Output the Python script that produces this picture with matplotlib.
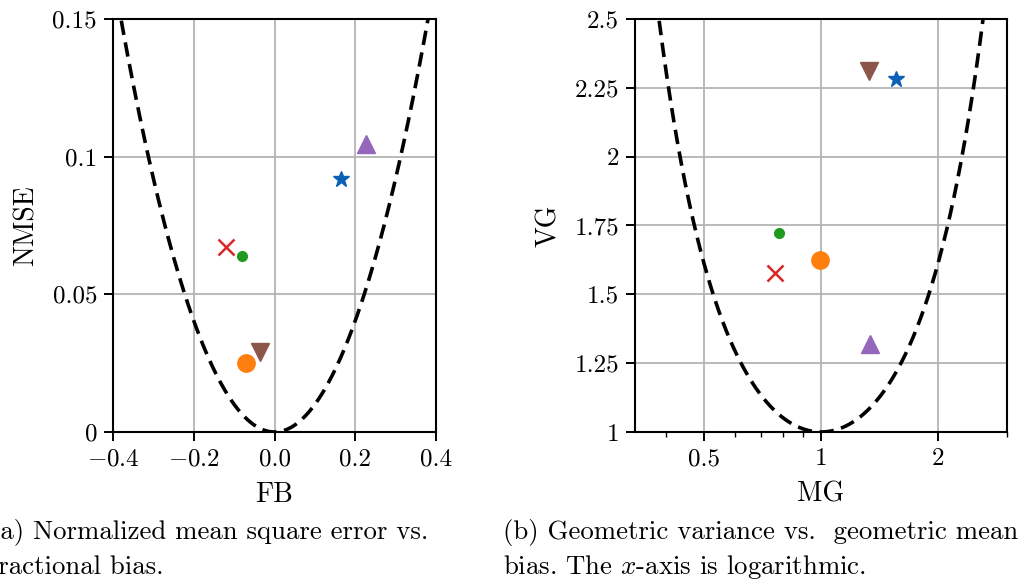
import numpy as np
from matplotlib import pyplot as plt
from matplotlib.ticker import FixedLocator, NullFormatter

plt.rcParams['font.family'] = 'cmr10'
plt.rcParams['mathtext.fontset'] = 'cm'
plt.rcParams['axes.formatter.use_mathtext'] = True
plt.rcParams['font.size'] = 18

# one entry per model, same order in both panels
markers = ['*', 'o', 'o', 'x', '^', 'v']
colors = ['#0a60b6', '#ff7f0e', '#1f9a1f', '#d62728', '#9467bd', '#8c564b']
sizes = [12, 12.5, 7, 11, 13.5, 13.5]

fb = [0.164, -0.071, -0.080, -0.119, 0.227, -0.037]
nmse = [0.0918, 0.0249, 0.0639, 0.0671, 0.1047, 0.0289]
mg = [1.556, 0.996, 0.782, 0.764, 1.335, 1.330]
vg = [2.282, 1.625, 1.724, 1.576, 1.319, 2.311]

fb_ticks = [-0.4, -0.2, 0.0, 0.2, 0.4]
fb_labels = ['$-0.4$', '$-0.2$', '0.0', '0.2', '0.4']
nmse_ticks = [0, 0.05, 0.1, 0.15]
nmse_labels = ['0', '0.05', '0.1', '0.15']
mg_ticks = [0.5, 1, 2]
mg_labels = ['0.5', '1', '2']
mg_minor = [0.4, 0.6, 0.7, 0.8, 0.9, 3]
vg_ticks = [1, 1.25, 1.5, 1.75, 2, 2.25, 2.5]
vg_labels = ['1', '1.25', '1.5', '1.75', '2', '2.25', '2.5']

caption_a = ['(a) Normalized mean square error vs.', 'fractional bias.']
caption_b = ['(b) Geometric variance vs.  geometric mean', 'bias. The $x$-axis is logarithmic.']


def style(ax):
    ax.grid(True, color='#b4b4b4', lw=1.3)
    ax.set_axisbelow(True)
    for s in ax.spines.values():
        s.set_linewidth(1.5)
    ax.tick_params(which='major', direction='out', length=6.5, width=1.4, pad=5)
    ax.tick_params(which='minor', direction='out', length=3.5, width=1.0)


fig = plt.figure(figsize=(10.22, 5.79), dpi=100)
ax1 = fig.add_axes([113 / 1022, 1 - 432 / 579, 323 / 1022, 413 / 579])
ax2 = fig.add_axes([635 / 1022, 1 - 432 / 579, 372 / 1022, 413 / 579])

# minimum NMSE for a given FB
fb_line = np.linspace(-0.4, 0.4, 400)
ax1.plot(fb_line, 4 * fb_line**2 / (4 - fb_line**2), 'k', lw=2.6, dashes=(4, 2.1))
for x, y, m, c, s in zip(fb, nmse, markers, colors, sizes):
    ax1.plot(x, y, marker=m, color=c, ms=s, mew=1.8 if m == 'x' else 1, ls='none')
ax1.set_xlim(-0.4, 0.4)
ax1.set_ylim(0, 0.15)
ax1.set_xticks(fb_ticks, fb_labels)
ax1.set_yticks(nmse_ticks, nmse_labels)
ax1.set_xlabel('FB', fontsize=20, labelpad=8)
ax1.set_ylabel('NMSE', fontsize=20, labelpad=9)
style(ax1)

# minimum VG for a given MG
mg_line = np.geomspace(1 / 3, 3, 400)
ax2.plot(mg_line, np.exp(np.log(mg_line)**2), 'k', lw=2.6, dashes=(4, 2.1))
for x, y, m, c, s in zip(mg, vg, markers, colors, sizes):
    ax2.plot(x, y, marker=m, color=c, ms=s, mew=1.8 if m == 'x' else 1, ls='none')
ax2.set_xscale('log')
ax2.set_xlim(1 / 3, 3)
ax2.set_ylim(1, 2.5)
ax2.set_xticks(mg_ticks, mg_labels)
ax2.xaxis.set_minor_locator(FixedLocator(mg_minor))
ax2.xaxis.set_minor_formatter(NullFormatter())
ax2.set_yticks(vg_ticks, vg_labels)
ax2.set_xlabel('MG', fontsize=20, labelpad=8)
ax2.set_ylabel('VG', fontsize=20, labelpad=9)
style(ax2)

for i, line in enumerate(caption_a):
    fig.text(-10 / 1022, 1 - (533 + 34 * i) / 579, line, fontsize=19.3, va='center', ha='left')
for i, line in enumerate(caption_b):
    fig.text(503 / 1022, 1 - (533 + 34 * i) / 579, line, fontsize=19.3, va='center', ha='left')

fig.savefig('out.png', dpi=100)
